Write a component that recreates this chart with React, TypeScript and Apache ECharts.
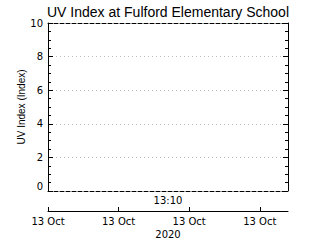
import React, { useEffect, useRef } from "react";
import * as echarts from "echarts";

const titleText = "UV Index at Fulford Elementary School";
const yAxisName = "UV Index (Index)";
const timeLabel = "13:10";
const yearLabel = "2020";
const xTickValues = [0, 1, 2, 3];
const xTickLabels = ["13 Oct", "13 Oct", "13 Oct", "13 Oct"];
const yMin = 0;
const yMax = 10;
const yInterval = 2;
const uvValues: [number, number][] = [];

export default function App() {
  const ref = useRef<HTMLDivElement>(null);
  useEffect(() => {
    if (!ref.current) return;
    const chart = echarts.init(ref.current, undefined, { renderer: "svg" });
    const black = "#000";
    const tickFont = { color: black, fontFamily: "DejaVu Sans", fontSize: 10 };
    chart.setOption({
      animation: false,
      backgroundColor: "#fff",
      title: {
        text: titleText,
        left: 168,
        top: 5,
        textAlign: "center",
        padding: 0,
        textStyle: { color: black, fontFamily: "Liberation Sans", fontSize: 14, fontWeight: "normal" },
      },
      grid: [
        { left: 48, top: 23, width: 240, height: 168 },
        { left: 48, top: 200, width: 240, height: 12 },
      ],
      xAxis: [
        {
          gridIndex: 0,
          type: "value",
          min: 0,
          max: 3.4,
          position: "bottom",
          axisLine: { show: true, onZero: false, lineStyle: { color: black, width: 1, type: [4, 2] } },
          axisTick: { show: false },
          axisLabel: { show: false },
          splitLine: { show: false },
          name: timeLabel,
          nameLocation: "middle",
          nameGap: 4,
          nameMoveOverlap: false,
          nameTextStyle: { ...tickFont, verticalAlign: "top" },
        },
        {
          gridIndex: 0,
          type: "value",
          min: 0,
          max: 3.4,
          position: "top",
          axisLine: { show: true, onZero: false, lineStyle: { color: black, width: 1, type: [4, 2] } },
          axisTick: { show: false },
          axisLabel: { show: false },
          splitLine: { show: false },
        },
        {
          gridIndex: 1,
          type: "value",
          min: 0,
          max: 3.4,
          position: "bottom",
          axisLine: { show: true, onZero: false, lineStyle: { color: black, width: 1 } },
          axisTick: { show: true, inside: true, length: 4, lineStyle: { color: black }, customValues: xTickValues },
          axisLabel: {
            show: true,
            margin: 5,
            ...tickFont,
            customValues: xTickValues,
            formatter: (v: number) => xTickLabels[Math.round(v)] ?? "",
          },
          splitLine: { show: false },
          name: yearLabel,
          nameLocation: "middle",
          nameGap: 18,
          nameMoveOverlap: false,
          nameTextStyle: tickFont,
        },
      ],
      yAxis: [
        {
          gridIndex: 0,
          type: "value",
          min: yMin,
          max: yMax,
          interval: yInterval,
          position: "left",
          axisLine: { show: true, onZero: false, lineStyle: { color: black, width: 1 } },
          axisTick: { show: true, inside: true, length: 5, lineStyle: { color: black } },
          minorTick: { show: true, splitNumber: 4, length: 3, lineStyle: { color: black } },
          axisLabel: { show: true, margin: 5, ...tickFont, verticalAlignMinLabel: "bottom" },
          splitLine: {
            show: true,
            showMinLine: false,
            showMaxLine: false,
            lineStyle: { color: "#bdbdbd", width: 1, type: [1, 3] },
          },
          name: yAxisName,
          nameLocation: "middle",
          nameGap: 22,
          nameMoveOverlap: false,
          nameTextStyle: { color: black, fontFamily: "Liberation Sans", fontSize: 10 },
        },
        {
          gridIndex: 0,
          type: "value",
          min: yMin,
          max: yMax,
          interval: yInterval,
          position: "right",
          axisLine: { show: true, onZero: false, lineStyle: { color: black, width: 1 } },
          axisTick: { show: true, inside: true, length: 5, lineStyle: { color: black } },
          minorTick: { show: true, splitNumber: 4, length: 3, lineStyle: { color: black } },
          axisLabel: { show: false },
          splitLine: { show: false },
        },
        {
          gridIndex: 1,
          type: "value",
          show: false,
        },
      ],
      series: [
        {
          type: "line",
          xAxisIndex: 0,
          yAxisIndex: 0,
          data: uvValues,
          showSymbol: false,
          lineStyle: { color: black, width: 1 },
        },
      ],
    });
    return () => chart.dispose();
  }, []);
  return <div ref={ref} style={{ position: "absolute", left: 0, top: 0, width: 320, height: 240 }} />;
}
